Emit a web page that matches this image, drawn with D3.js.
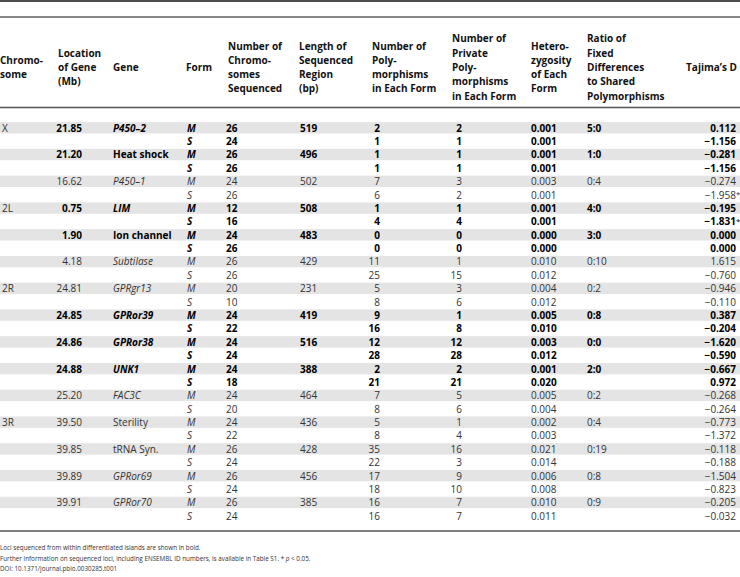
<!DOCTYPE html>
<html>
<head>
<meta charset="utf-8">
<script src="https://cdn.jsdelivr.net/npm/d3@7"></script>
<style>
  body { margin: 0; background: #fff; }
  svg { display: block; font-family: "Open Sans", sans-serif; }
</style>
</head>
<body>
<div id="table"></div>
<script>
// table values, one entry per locus
const chromosomes = ["X", "", "", "2L", "", "", "2R", "", "", "", "", "3R", "", "", ""];
const locations = ["21.85", "21.20", "16.62", "0.75", "1.90", "4.18", "24.81", "24.85", "24.86", "24.88", "25.20", "39.50", "39.85", "39.89", "39.91"];
const genes = ["P450\u20132", "Heat shock", "P450\u20131", "LIM", "Ion channel", "Subtilase", "GPRgr13", "GPRor39", "GPRor38", "UNK1", "FAC3C", "Sterility", "tRNA Syn.", "GPRor69", "GPRor70"];
const italicGene = [true, false, true, true, false, true, true, true, true, true, true, false, false, true, true];
const inIsland = [true, true, false, true, true, false, false, true, true, true, false, false, false, false, false];
const seqLength = [519, 496, 502, 508, 483, 429, 231, 419, 516, 388, 464, 436, 428, 456, 385];
const ratios = ["5:0", "1:0", "0:4", "4:0", "3:0", "0:10", "0:2", "0:8", "0:0", "2:0", "0:2", "0:4", "0:19", "0:8", "0:9"];
const forms = ["M", "S"];

// [M, S] pairs
const chromSeq = [[26, 24], [26, 26], [24, 26], [12, 16], [24, 26], [26, 26], [20, 10], [24, 22], [24, 24], [24, 18], [24, 20], [24, 22], [26, 24], [26, 24], [26, 24]];
const polymorphisms = [[2, 1], [1, 1], [7, 6], [1, 4], [0, 0], [11, 25], [5, 8], [9, 16], [12, 28], [2, 21], [7, 8], [5, 8], [35, 22], [17, 18], [16, 16]];
const privatePoly = [[2, 1], [1, 1], [3, 2], [1, 4], [0, 0], [1, 15], [3, 6], [1, 8], [12, 28], [2, 21], [5, 6], [1, 4], [16, 3], [9, 10], [7, 7]];
const heterozygosity = [[0.001, 0.001], [0.001, 0.001], [0.003, 0.001], [0.001, 0.001], [0.000, 0.000], [0.010, 0.012], [0.004, 0.012], [0.005, 0.010], [0.003, 0.012], [0.001, 0.020], [0.005, 0.004], [0.002, 0.003], [0.021, 0.014], [0.006, 0.008], [0.010, 0.011]];
const tajimaD = [[0.112, -1.156], [-0.281, -1.156], [-0.274, -1.958], [-0.195, -1.831], [0.000, 0.000], [1.615, -0.760], [-0.946, -0.110], [0.387, -0.204], [-1.620, -0.590], [-0.667, 0.972], [-0.268, -0.264], [-0.773, -1.372], [-0.118, -0.188], [-1.504, -0.823], [-0.205, -0.032]];
const significant = [[false, false], [false, false], [false, true], [false, true], [false, false], [false, false], [false, false], [false, false], [false, false], [false, false], [false, false], [false, false], [false, false], [false, false], [false, false]];

const headers = [
  ["Chromo-", "some"],
  ["Location", "of Gene", "(Mb)"],
  ["Gene"],
  ["Form"],
  ["Number of", "Chromo-", "somes", "Sequenced"],
  ["Length of", "Sequenced", "Region", "(bp)"],
  ["Number of", "Poly-", "morphisms", "in Each Form"],
  ["Number of", "Private", "Poly-", "morphisms", "in Each Form"],
  ["Hetero-", "zygosity", "of Each", "Form"],
  ["Ratio of", "Fixed", "Differences", "to Shared", "Polymorphisms"],
  ["Tajima\u2019s D"]
];

const footnotes = [
  "Loci sequenced from within differentiated islands are shown in bold.",
  "Further information on sequenced loci, including ENSEMBL ID numbers, is available in Table S1. * p < 0.05.",
  "DOI: 10.1371/journal.pbio.0030285.t001"
];

// layout
const width = 740, height = 577;
const fontSize = 10;
const headTop = 17, headBottom = 107.5, bodyTop = 121.5, rowH = 13.38;
const bottomLine = 531;

// column positions: hx = header x, x = value x
const cols = [
  { hx: 0, x: 2, anchor: "start" },
  { hx: 58, x: 82, anchor: "end" },
  { hx: 113, x: 113, anchor: "start" },
  { hx: 186, x: 187, anchor: "start" },
  { hx: 228, x: 226, anchor: "start" },
  { hx: 299, x: 300, anchor: "start" },
  { hx: 372, x: 380, anchor: "end" },
  { hx: 452, x: 462, anchor: "end" },
  { hx: 531, x: 531, anchor: "start" },
  { hx: 587, x: 587, anchor: "start" },
  { hx: 737, x: 736, anchor: "end", hanchor: "end" }
];

const fmt3 = d3.format(".3f");

// flatten into one record per row (locus x form)
const rows = [];
genes.forEach((g, i) => {
  forms.forEach((f, j) => {
    rows.push({
      idx: rows.length,
      first: j === 0,
      bold: inIsland[i],
      cells: [
        { t: j === 0 ? chromosomes[i] : "" },
        { t: j === 0 ? locations[i] : "" },
        { t: j === 0 ? g : "", it: italicGene[i] },
        { t: f, it: true },
        { t: String(chromSeq[i][j]) },
        { t: j === 0 ? String(seqLength[i]) : "" },
        { t: String(polymorphisms[i][j]) },
        { t: String(privatePoly[i][j]) },
        { t: fmt3(heterozygosity[i][j]) },
        { t: j === 0 ? ratios[i] : "" },
        { t: fmt3(tajimaD[i][j]), star: significant[i][j] }
      ]
    });
  });
});

const y = d3.scaleBand()
  .domain(rows.map(d => d.idx))
  .range([bodyTop, bodyTop + rows.length * rowH]);

const svg = d3.select("#table")
  .append("svg")
  .attr("width", width)
  .attr("height", height);

// grey band behind each M row
svg.selectAll(".band")
  .data(rows.filter(d => d.first))
  .enter()
  .append("rect")
  .attr("class", "band")
  .attr("x", 0)
  .attr("y", d => y(d.idx) + 0.6)
  .attr("width", width)
  .attr("height", y.bandwidth() - 2)
  .attr("fill", "#e4e4e4");

// rules
const rules = [
  { y: 1, w: 1.6, c: "#111" },
  { y: headTop, w: 1.2, c: "#111" },
  { y: headBottom, w: 1.4, c: "#555" },
  { y: bottomLine, w: 1.4, c: "#555" }
];
svg.selectAll(".rule")
  .data(rules)
  .enter()
  .append("line")
  .attr("x1", 0).attr("x2", width)
  .attr("y1", d => d.y).attr("y2", d => d.y)
  .attr("stroke", d => d.c)
  .attr("stroke-width", d => d.w);

// header
const headMid = 67.5;
const headLine = 14.3;
headers.forEach((lines, c) => {
  const t = svg.append("text")
    .attr("font-size", fontSize)
    .attr("font-weight", "bold")
    .attr("fill", "#111")
    .attr("text-anchor", cols[c].hanchor || "start");
  lines.forEach((s, k) => {
    t.append("tspan")
      .attr("x", cols[c].hx)
      .attr("y", headMid + (k - (lines.length - 1) / 2) * headLine)
      .attr("dy", "0.35em")
      .text(s);
  });
});

// body
const rowG = svg.selectAll(".row")
  .data(rows)
  .enter()
  .append("g")
  .attr("class", "row")
  .attr("transform", d => `translate(0, ${y(d.idx) + y.bandwidth() / 2})`);

rowG.each(function(r) {
  const g = d3.select(this);
  r.cells.forEach((cell, c) => {
    if (!cell.t) return;
    const bold = c === 0 ? false : r.bold;
    const t = g.append("text")
      .attr("x", cols[c].x)
      .attr("dy", "0.35em")
      .attr("text-anchor", cols[c].anchor)
      .attr("font-size", fontSize)
      .attr("font-weight", bold ? "bold" : "normal")
      .attr("font-style", cell.it ? "italic" : "normal")
      .attr("fill", bold ? "#000" : "#333")
      .text(cell.t);
    if (cell.star) {
      // keep the number right-aligned, let the asterisk hang past it
      t.attr("text-anchor", "start");
      const w = t.node().getComputedTextLength();
      t.attr("x", cols[c].x - w);
      t.append("tspan").attr("font-weight", "normal").attr("font-size", 8).attr("dy", "-0.2em").text("*");
    }
  });
});

// footnotes
const foot = svg.append("g")
  .attr("font-size", 6.3)
  .attr("fill", "#333");
foot.append("text").attr("x", 0).attr("y", 549.5).text(footnotes[0]);
const f2 = foot.append("text").attr("x", 0).attr("y", 560.5);
f2.append("tspan").text(footnotes[1].replace("* p < 0.05.", "* "));
f2.append("tspan").attr("font-style", "italic").text("p");
f2.append("tspan").text(" < 0.05.");
foot.append("text").attr("x", 0).attr("y", 571).text(footnotes[2]);
</script>
</body>
</html>
